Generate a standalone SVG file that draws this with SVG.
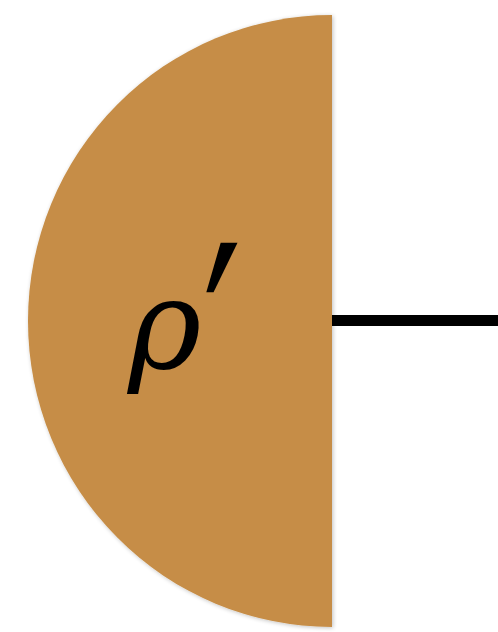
<svg xmlns="http://www.w3.org/2000/svg" width="498" height="632" viewBox="0 0 498 632">
<defs>
<filter id="sh" x="-5%" y="-5%" width="110%" height="110%"><feGaussianBlur in="SourceAlpha" stdDeviation="2"/><feOffset dx="1" dy="1"/><feComponentTransfer><feFuncA type="linear" slope="0.25"/></feComponentTransfer><feMerge><feMergeNode/><feMergeNode in="SourceGraphic"/></feMerge></filter>
</defs>
<style>.lbl{font-family:"DejaVu Serif","Liberation Serif",serif;font-style:italic;fill:#000}.pr{font-family:"DejaVu Sans",sans-serif;fill:#000}</style>
<rect width="498" height="632" fill="#fff"/>
<g id="connectors"><rect x="332" y="315" width="166" height="11" fill="#000"/></g>
<g id="rho">
<path d="M332,15 A304,306 0 0 0 332,627 Z" fill="#C68D46" filter="url(#sh)"/>
<text class="lbl" x="128" y="368" font-size="125">ρ</text>
<text class="pr" transform="translate(203,441) scale(1,1.6)" font-size="170">′</text>
</g>
</svg>
